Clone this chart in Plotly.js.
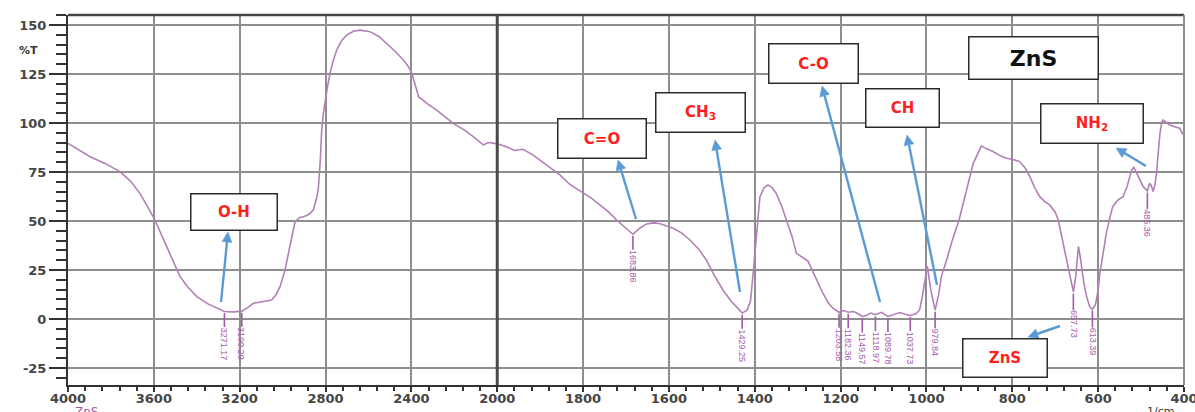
<!DOCTYPE html>
<html>
<head>
<meta charset="utf-8">
<script src="https://cdn.plot.ly/plotly-3.0.1.min.js"></script>
<style>
  html, body { margin: 0; padding: 0; background: #fff; }
  #chart { width: 1195px; height: 412px; }
</style>
</head>
<body>
<div id="chart"></div>
<script>
// FTIR spectrum of ZnS, wavenumber (1/cm) against transmittance (%T)
const wavenumber = [
  4000, 3950, 3897, 3830, 3758, 3710, 3665, 3630, 3595, 3540, 3478, 3440, 3400, 3350, 3307,
  3271.17, 3230, 3190.20, 3160, 3136, 3110, 3090, 3051, 3030, 3012, 2990, 2973, 2955, 2942,
  2920, 2903, 2880, 2857, 2841, 2834, 2825, 2818, 2810, 2802, 2790, 2779, 2765, 2748, 2725,
  2701, 2670, 2639, 2610, 2593, 2550, 2515, 2475, 2437, 2415, 2398, 2385, 2375, 2365, 2355,
  2340, 2328, 2282, 2240, 2205, 2170, 2142, 2100, 2065, 2045, 2033, 2015, 2000,
  1979, 1960, 1940, 1917, 1901, 1885, 1854, 1830, 1804, 1780, 1761, 1740, 1722, 1700,
  1683.86, 1668, 1652, 1635, 1620, 1590, 1570, 1551, 1530, 1513, 1495, 1474, 1455, 1443,
  1429.25, 1418, 1410, 1403, 1395, 1388, 1378, 1369, 1360, 1350, 1338, 1326, 1313, 1303,
  1290, 1276, 1260, 1241, 1228, 1218, 1203.58, 1192, 1182.36, 1170, 1160, 1149.57, 1140,
  1130, 1118.97, 1105, 1089.78, 1075, 1062, 1050, 1037.73, 1025, 1016, 1010, 1004, 998,
  990, 979.84, 972, 965, 953, 940, 924, 907, 891, 872, 860, 845, 830, 814, 800, 783, 770,
  759, 748, 736, 725, 713, 700, 693, 685, 678, 670, 662, 657.73, 652, 649, 646, 642, 639,
  633, 627, 620, 613.39, 606, 600, 596, 588, 581, 573, 566, 555, 542, 532, 522, 517, 510,
  503, 495, 485.36, 480, 476, 472, 468, 464, 460, 456, 452, 449, 443, 433, 420, 410, 404, 400
];
const transmittance = [
  89.6, 86.5, 82.8, 79.5, 75.2, 70.5, 64.1, 57.5, 50.5, 36.9, 21.6, 16.0, 11.4, 7.8, 5.4,
  3.8, 3.6, 4.0, 6.0, 8.0, 8.5, 8.8, 9.7, 12.5, 16.5, 24.5, 33.5, 42.5, 49.6,
  51.8, 52.2, 53.2, 55.6, 62.0, 66.0, 80.0, 96.0, 105.0, 111.7, 119.0, 125.4, 131.5, 137.2, 142.0,
  144.9, 146.8, 147.4, 147.0, 146.6, 144.0, 140.7, 136.5, 132.1, 129.0, 125.4, 121.0, 117.5, 113.0, 112.5,
  111.0, 110.0, 106.6, 103.0, 99.8, 97.5, 95.6, 92.0, 88.8, 89.8, 90.0, 89.6, 89.4,
  87.9, 86.0, 86.6, 83.7, 81.0, 78.6, 73.5, 68.5, 65.0, 61.5, 58.2, 54.5, 50.5, 46.5,
  43.2, 46.3, 48.5, 49.0, 48.6, 46.3, 43.8, 40.3, 35.5, 30.1, 22.5, 14.8, 9.0, 6.3,
  3.0, 4.5, 9.0, 25.0, 45.0, 62.4, 67.0, 68.4, 67.0, 64.1, 58.0, 50.5, 42.0, 33.5,
  31.5, 29.5, 22.0, 13.0, 8.0, 5.5, 3.4, 4.3, 3.4, 3.8, 2.8, 1.3, 1.8,
  3.0, 2.2, 3.4, 1.3, 2.5, 3.3, 2.4, 1.8, 2.6, 4.6, 11.0, 20.0, 27.0,
  15.0, 4.5, 12.0, 22.0, 30.1, 40.0, 50.5, 65.8, 79.4, 88.3, 86.8, 85.4, 83.5, 82.0, 81.5, 80.3, 77.0,
  72.6, 67.0, 62.4, 60.0, 58.2, 54.5, 50.5, 42.0, 33.5, 25.0, 18.0, 13.8, 22.0, 32.0, 37.0, 32.0, 26.7,
  18.0, 11.4, 6.5, 4.8, 7.5, 15.0, 23.3, 34.0, 43.7, 51.5, 57.3, 60.5, 62.4, 68.0, 76.0, 77.4, 74.5,
  70.9, 67.5, 65.3, 69.2, 68.0, 65.0, 68.0, 74.3, 85.0, 94.7, 100.0, 101.5, 100.5, 99.0, 98.0, 97.3, 94.7, 94.0
];

// picked peak positions printed under the spectrum
const peakWavenumbers = [3271.17, 3190.20, 1683.86, 1429.25, 1203.58, 1182.36, 1149.57,
  1118.97, 1089.78, 1037.73, 979.84, 657.73, 613.39, 485.36];
const peakLabels = ['3271.17', '3190.20', '1683.86', '1429.25', '1203.58', '1182.36', '1149.57',
  '1118.97', '1089.78', '1037.73', '979.84', '657.73', '613.39', '485.36'];

// band assignment call-outs
const bandNames = ['O-H', 'C=O', 'CH<sub>3</sub>', 'C-O', 'CH', 'NH<sub>2</sub>', 'ZnS'];
const sampleName = 'ZnS';

const leftTicks = [4000, 3600, 3200, 2800, 2400];
const rightTicks = [2000, 1800, 1600, 1400, 1200, 1000, 800, 600, 400];
const yTicks = [-25, 0, 25, 50, 75, 100, 125, 150];

// split the spectrum at the 2000 1/cm scale change
const hi = { x: [], y: [] }, lo = { x: [], y: [] };
wavenumber.forEach((w, i) => {
  if (w >= 2000) { hi.x.push(w); hi.y.push(transmittance[i]); }
  if (w <= 2000) { lo.x.push(w); lo.y.push(transmittance[i]); }
});

const lineStyle = { color: '#b27fb6', width: 1.6 };
const traces = [
  { x: hi.x, y: hi.y, xaxis: 'x', yaxis: 'y', type: 'scatter', mode: 'lines', line: lineStyle, hoverinfo: 'x+y' },
  { x: lo.x, y: lo.y, xaxis: 'x2', yaxis: 'y', type: 'scatter', mode: 'lines', line: lineStyle, hoverinfo: 'x+y' }
];

// plot area geometry in pixels
const W = 1195, H = 412, ML = 68, MR = 11, MT = 15, MB = 27;
const PW = W - ML - MR, PH = H - MT - MB;
const px = x => (x - ML) / PW;
const py = y => (H - MB - y) / PH;
const split = 2000 / 5200;

const FONT = 'DejaVu Sans, Verdana, sans-serif';
const tickFont = { family: FONT, size: 13, color: '#454545', weight: 'bold' };
const gridColor = '#8e8e8e';

function xAxis(domain, range, ticks, minorStep) {
  return {
    domain: domain, range: range, anchor: 'y',
    tickmode: 'array', tickvals: ticks, ticktext: ticks.map(String),
    showgrid: true, gridcolor: gridColor, gridwidth: 2,
    ticks: 'outside', ticklen: 5, tickwidth: 2, tickcolor: '#333',
    minor: { dtick: minorStep, ticks: 'outside', ticklen: 4, tickwidth: 2, tickcolor: '#333', showgrid: false },
    showline: true, linecolor: '#333', linewidth: 2,
    ticklabelstandoff: -5, ticklabeloverflow: 'allow',
    zeroline: false, tickfont: tickFont, fixedrange: true
  };
}

const annotations = [];

// peak tick marks and rotated wavenumber labels
peakWavenumbers.forEach((w, i) => {
  let k = 0;
  wavenumber.forEach((v, j) => { if (Math.abs(v - w) < Math.abs(wavenumber[k] - w)) k = j; });
  annotations.push({
    xref: w >= 2000 ? 'x' : 'x2', yref: 'y', x: w, y: transmittance[k] - 0.8,
    text: peakLabels[i], textangle: 90,
    font: { family: 'Liberation Sans, Arial, sans-serif', size: 9, color: '#a45aa8' },
    showarrow: true, arrowhead: 0, arrowwidth: 1.6, arrowcolor: '#a45aa8',
    ax: 0, ay: 31, standoff: 0, borderpad: 0
  });
});

// boxed band labels: [name index, centre x, centre y, width, height]
const boxes = [
  [0, 233.5, 211.5, 87, 37],
  [1, 601.5, 138, 89, 40],
  [2, 700, 113, 90, 40],
  [3, 813, 63, 90, 40],
  [4, 902, 108.5, 74, 39],
  [5, 1091.5, 123, 103, 40],
  [6, 1004.5, 357.5, 85, 39]
];
boxes.forEach(b => {
  annotations.push({
    xref: 'paper', yref: 'paper', x: px(b[1]), y: py(b[2]),
    xanchor: 'center', yanchor: 'middle', showarrow: false,
    text: bandNames[b[0]], width: b[3] - 4, height: b[4] - 4,
    bgcolor: '#ffffff', bordercolor: '#2b2b2b', borderwidth: 1.5, borderpad: 1,
    font: { family: FONT, size: 15, color: '#ff1f1f', weight: 'bold' }
  });
});

// sample name box
annotations.push({
  xref: 'paper', yref: 'paper', x: px(1033), y: py(57.5),
  xanchor: 'center', yanchor: 'middle', showarrow: false,
  text: sampleName, width: 126, height: 39,
  bgcolor: '#ffffff', bordercolor: '#2b2b2b', borderwidth: 1.5, borderpad: 1,
  font: { family: FONT, size: 22, color: '#111', weight: 'bold' }
});

// y axis caption and bottom captions running off the lower edge
annotations.push({
  xref: 'paper', yref: 'paper', x: px(28), y: py(50), xanchor: 'center', yanchor: 'middle',
  showarrow: false, text: '%T',
  font: { family: FONT, size: 11, color: '#3a3a3a', weight: 'bold' }
});
annotations.push({
  xref: 'paper', yref: 'paper', x: px(86), y: py(403), xanchor: 'center', yanchor: 'top',
  showarrow: false, text: 'ZnS',
  font: { family: FONT, size: 12, color: '#a45aa8' }
});
annotations.push({
  xref: 'paper', yref: 'paper', x: px(1160), y: py(403), xanchor: 'center', yanchor: 'top',
  showarrow: false, text: '1/cm',
  font: { family: FONT, size: 11, color: '#3a3a3a' }
});

// frame lines: top edge, scale-change divider, right edge
const shapes = [
  { type: 'line', xref: 'paper', yref: 'paper', x0: 0, x1: 1, y0: 1, y1: 1, line: { color: '#444', width: 2.5 } },
  { type: 'line', xref: 'paper', yref: 'paper', x0: split, x1: split, y0: 0, y1: 1, line: { color: '#4a4a4a', width: 3 } },
  { type: 'line', xref: 'paper', yref: 'paper', x0: 1, x1: 1, y0: 0, y1: 1, line: { color: gridColor, width: 2 } }
];

// blue pointers from the bands to their boxes: [tip x, tip y, tail x, tail y] in pixels
const pointers = [
  [228, 232, 221, 302],
  [618, 160, 636, 219],
  [715, 140, 740, 292],
  [822, 86, 880, 302],
  [907, 135, 937, 285],
  [1116, 148, 1146, 166],
  [1028, 337, 1060, 326]
];
const blue = '#5b9bd5';
pointers.forEach(p => {
  const [hx, hy, tx, ty] = p;
  const L = Math.hypot(hx - tx, hy - ty);
  const ux = (hx - tx) / L, uy = (hy - ty) / L;
  const bx = hx - ux * 10, by = hy - uy * 10;
  const nx = -uy, ny = ux;
  shapes.push({
    type: 'line', xref: 'paper', yref: 'paper',
    x0: px(tx), y0: py(ty), x1: px(bx), y1: py(by),
    line: { color: blue, width: 2.4 }
  });
  shapes.push({
    type: 'path', xref: 'paper', yref: 'paper',
    path: 'M ' + px(hx) + ',' + py(hy) +
          ' L ' + px(bx + nx * 5) + ',' + py(by + ny * 5) +
          ' L ' + px(bx - nx * 5) + ',' + py(by - ny * 5) + ' Z',
    fillcolor: blue, line: { color: blue, width: 0.5 }
  });
});

const layout = {
  width: W, height: H,
  margin: { l: ML, r: MR, t: MT, b: MB, pad: 0 },
  paper_bgcolor: '#ffffff', plot_bgcolor: '#ffffff',
  showlegend: false,
  xaxis: xAxis([0, split], [4000, 2000], leftTicks, 80),
  xaxis2: xAxis([split, 1], [2000, 400], rightTicks, 40),
  yaxis: {
    range: [-33.7, 155.1], anchor: 'x',
    tickmode: 'array', tickvals: yTicks, ticktext: yTicks.map(String),
    showgrid: true, gridcolor: gridColor, gridwidth: 2,
    ticks: 'outside', ticklen: 17, tickwidth: 2, tickcolor: '#333',
    minor: { dtick: 5, ticks: 'outside', ticklen: 10, tickwidth: 2, tickcolor: '#333', showgrid: false },
    showline: true, linecolor: '#333', linewidth: 2,
    zeroline: false, tickfont: tickFont, fixedrange: true
  },
  shapes: shapes,
  annotations: annotations
};

Plotly.newPlot('chart', traces, layout, { staticPlot: true, displayModeBar: false });
</script>
</body>
</html>
